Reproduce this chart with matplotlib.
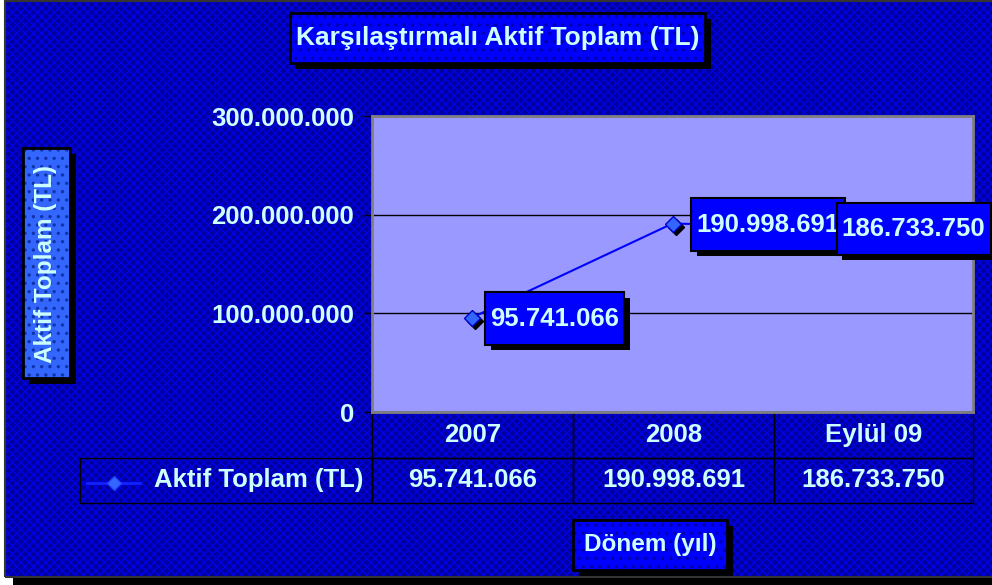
import matplotlib
matplotlib.use('Agg')
import matplotlib.pyplot as plt
import matplotlib.patheffects as pe
from matplotlib.patches import Rectangle
from matplotlib.path import Path
from matplotlib.lines import Line2D
from matplotlib.transforms import offset_copy

categories = ['2007', '2008', 'Eylül 09']
values = [95741066, 190998691, 186733750]
series_name = 'Aktif Toplam (TL)'
yticks = [0, 100000000, 200000000, 300000000]
chart_title = 'Karşılaştırmalı Aktif Toplam (TL)'
y_title = 'Aktif Toplam (TL)'
x_title = 'Dönem (yıl)'


def tr_number(v):
    # turkish thousands separator
    return f'{int(v):,}'.replace(',', '.')


W, H = 992, 585
TXT = '#CCFFFF'
plt.rcParams['font.family'] = ['Liberation Sans', 'DejaVu Sans']
plt.rcParams['font.weight'] = 'bold'
plt.rcParams['hatch.linewidth'] = 1.2

fig = plt.figure(figsize=(W / 100, H / 100), dpi=100)
fig.patch.set_facecolor('white')


def box(x0, y0, x1, y1, face, hatch_col, hatch, shadow=6, border='black', lw=2, zorder=1):
    """pixel box measured from top-left corner, with a black drop shadow"""
    l, b = x0 / W, 1 - y1 / H
    w, h = (x1 - x0) / W, (y1 - y0) / H
    if shadow:
        fig.add_artist(Rectangle((l + shadow / W, b - shadow / H), w, h,
                                 facecolor='black', edgecolor='none', zorder=zorder))
    fig.add_artist(Rectangle((l, b), w, h, facecolor=face, edgecolor=hatch_col,
                             hatch=hatch, linewidth=0, zorder=zorder + 0.1))
    fig.add_artist(Rectangle((l, b), w, h, facecolor='none', edgecolor=border,
                             linewidth=lw, zorder=zorder + 0.2))


def label_box(x0, y0, width, height, mutation_size):
    # wider vertical padding than horizontal, like the excel labels
    px, py = 0.2 * mutation_size, 0.55 * mutation_size
    x1, y1 = x0 + width + px, y0 + height + py
    x0, y0 = x0 - px, y0 - py
    return Path([(x0, y0), (x1, y0), (x1, y1), (x0, y1), (x0, y0)], closed=True)


# outer chart area
box(5, 1, 1010, 577, '#000099', '#0000E0', 'xxxx', shadow=8, border='#333333', lw=1.5, zorder=0)

# title / axis title boxes
box(290, 13, 705, 63, '#0000FF', '#0000AA', '..', zorder=1)
fig.text(498 / W, 1 - 38 / H, chart_title, ha='center', va='center',
         fontsize=19, color=TXT, zorder=2)
box(23, 148, 70, 378, '#3366FF', '#1133AA', '..', zorder=1)
fig.text(46 / W, 1 - 264 / H, y_title, ha='center', va='center', rotation=90,
         fontsize=17.5, color=TXT, zorder=2)
box(573, 520, 727, 570, '#0000FF', '#0000AA', '..', zorder=1)
fig.text(650 / W, 1 - 545 / H, x_title, ha='center', va='center',
         fontsize=17.5, color=TXT, zorder=2)

ax = fig.add_axes([372 / W, 1 - 412 / H, 601 / W, 296 / H])
ax.set_zorder(3)
ax.set_facecolor('#9999FF')
for s in ax.spines.values():
    s.set_color('#808080')
    s.set_linewidth(2)

x = list(range(len(categories)))
ax.plot(x, values, color='#0000FF', lw=1.5, zorder=3)
shadow_tr = offset_copy(ax.transData, fig=fig, x=3, y=-3, units='dots')
ax.plot(x, values, 'D', ms=8, color='black', transform=shadow_tr, zorder=3)
ax.plot(x, values, 'D', ms=8, mfc='#3366FF', mec='#0000CC', mew=1, zorder=4)

ax.set_xlim(-0.5, 2.5)
ax.set_ylim(0, 300000000)
ax.set_xticks([])
ax.set_yticks(yticks)
ax.set_yticklabels([tr_number(v) for v in yticks])
ax.tick_params(axis='y', length=6, width=1, color='black', pad=7,
               labelsize=18.5, labelcolor=TXT)
ax.yaxis.grid(True, color='black', lw=1)
ax.set_axisbelow(True)

# data labels
label_dx = [18, 24, -31]
for i, v in enumerate(values):
    t = ax.annotate(tr_number(v), (i, v), xytext=(label_dx[i], -1),
                    textcoords='offset pixels', ha='left', va='center',
                    fontsize=18.5, color=TXT, fontweight='bold',
                    annotation_clip=False, zorder=6,
                    bbox=dict(boxstyle='square,pad=0.3', fc='#0000FF',
                              ec='black', lw=1.5))
    patch = t.get_bbox_patch()
    patch.set_boxstyle(label_box)
    patch.set_path_effects([
        pe.SimplePatchShadow(offset=(4, -4), shadow_rgbFace='black', alpha=1),
        pe.Normal()])

# data table under the plot
cell_text = [[''] + categories, [series_name] + [tr_number(v) for v in values]]
tbl = ax.table(cellText=cell_text, cellLoc='center',
               colWidths=[292, 201, 201, 199],
               bbox=[-292 / 601, -91 / 296, 893 / 601, 91 / 296])
tbl.auto_set_font_size(False)
for (r, c), cell in tbl.get_celld().items():
    cell.set_facecolor('none')
    cell.set_edgecolor('black')
    cell.set_linewidth(1)
    cell.set_text_props(color=TXT, fontsize=18.5, fontweight='bold')
    if r == 0 and c == 0:
        cell.visible_edges = ''
    if r == 1 and c == 0:
        cell.PAD = 0.03
        cell._loc = 'right'
        cell.get_text().set_ha('right')

# legend key in the table
ax.add_line(Line2D([-0.474, -0.386], [-0.24, -0.24], transform=ax.transAxes,
                   color='#1122FF', lw=2, clip_on=False))
ax.add_line(Line2D([-0.43], [-0.24], transform=ax.transAxes, marker='D', ms=7,
                   color='#3366FF', mec='#2244FF', clip_on=False))

fig.savefig('out.png', dpi=100)
